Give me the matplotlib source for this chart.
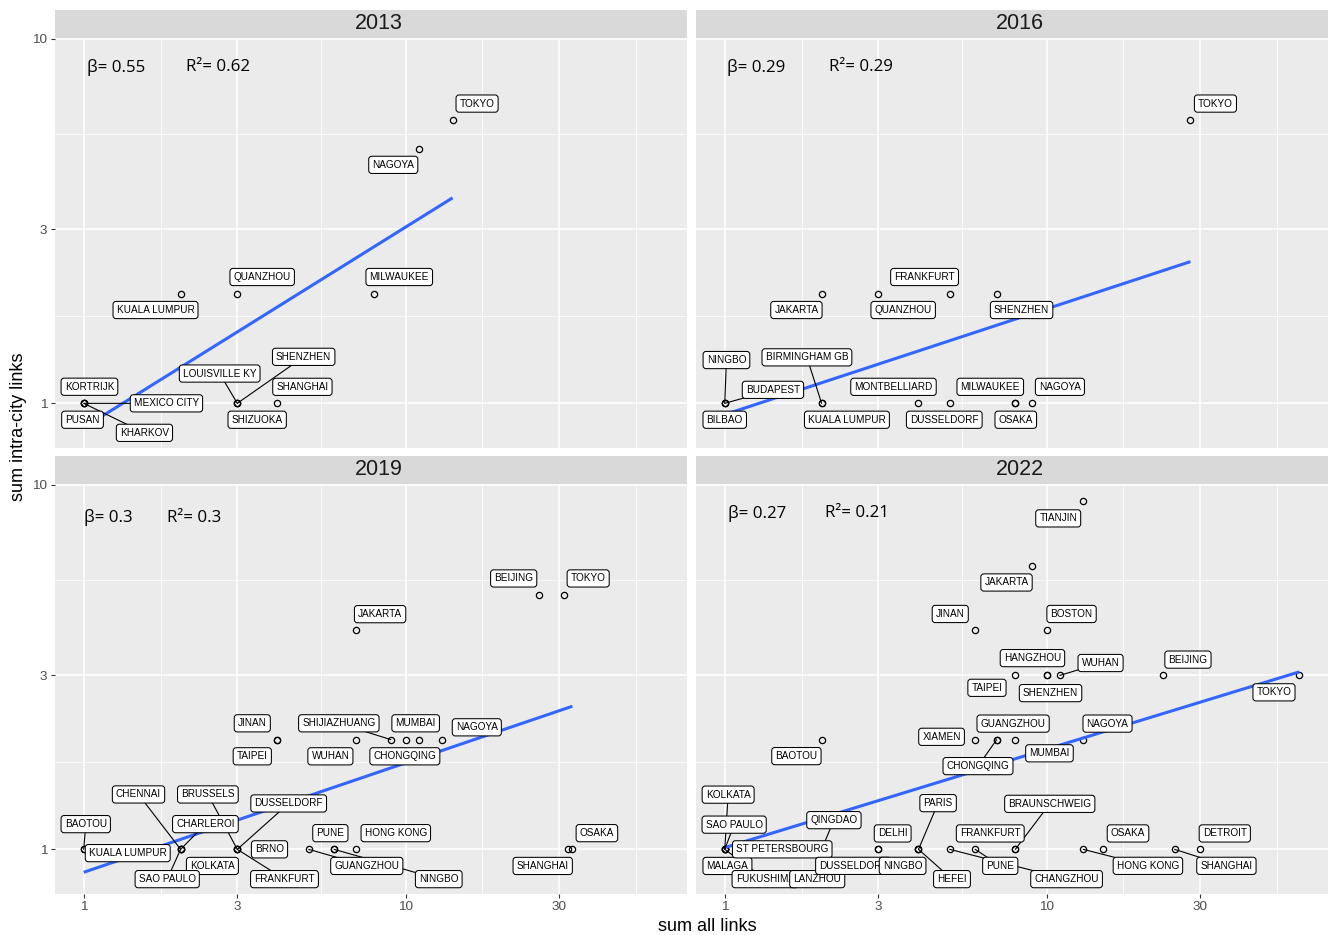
import numpy as np
import matplotlib
matplotlib.use("Agg")
import matplotlib.pyplot as plt
from matplotlib.ticker import FixedLocator, NullFormatter, FixedFormatter

plt.rcParams["font.family"] = ["Liberation Sans", "DejaVu Sans"]

# ---------------------------------------------------------------- data
years = ["2013", "2016", "2019", "2022"]

cities_2013 = ["KORTRIJK", "PUSAN", "MEXICO CITY", "KHARKOV", "KUALA LUMPUR", "QUANZHOU",
               "LOUISVILLE KY", "SHENZHEN", "SHIZUOKA", "SHANGHAI", "MILWAUKEE", "NAGOYA",
               "TOKYO"]
all_links_2013 = [1, 1, 1, 1, 2, 3, 3, 3, 3, 4, 8, 11, 14]
intra_links_2013 = [1, 1, 1, 1, 2, 2, 1, 1, 1, 1, 2, 5, 6]

cities_2016 = ["NINGBO", "BUDAPEST", "BILBAO", "JAKARTA", "BIRMINGHAM GB", "KUALA LUMPUR",
               "QUANZHOU", "MONTBELLIARD", "FRANKFURT", "DUSSELDORF", "SHENZHEN",
               "MILWAUKEE", "OSAKA", "NAGOYA", "TOKYO"]
all_links_2016 = [1, 1, 1, 2, 2, 2, 3, 4, 5, 5, 7, 8, 8, 9, 28]
intra_links_2016 = [1, 1, 1, 2, 1, 1, 2, 1, 2, 1, 2, 1, 1, 1, 6]

cities_2019 = ["BAOTOU", "KUALA LUMPUR", "CHENNAI", "CHARLEROI", "KOLKATA", "SAO PAULO",
               "BRUSSELS", "DUSSELDORF", "BRNO", "FRANKFURT", "JINAN", "TAIPEI",
               "GUANGZHOU", "PUNE", "NINGBO", "HONG KONG", "WUHAN", "JAKARTA",
               "SHIJIAZHUANG", "CHONGQING", "MUMBAI", "NAGOYA", "BEIJING", "TOKYO",
               "SHANGHAI", "OSAKA"]
all_links_2019 = [1, 1, 2, 2, 2, 2, 3, 3, 3, 3, 4, 4, 5, 6, 6, 7, 7, 7, 9, 10, 11, 13,
                  26, 31, 32, 33]
intra_links_2019 = [1, 1, 1, 1, 1, 1, 1, 1, 1, 1, 2, 2, 1, 1, 1, 1, 2, 4, 2, 2, 2, 2,
                    5, 5, 1, 1]

cities_2022 = ["KOLKATA", "SAO PAULO", "MALAGA", "ST PETERSBOURG", "FUKUSHIMA", "QINGDAO",
               "LANZHOU", "BAOTOU", "DELHI", "DUSSELDORF", "PARIS", "HEFEI", "NINGBO",
               "CHANGZHOU", "PUNE", "XIAMEN", "JINAN", "GUANGZHOU", "CHONGQING",
               "BRAUNSCHWEIG", "FRANKFURT", "MUMBAI", "TAIPEI", "JAKARTA", "HANGZHOU",
               "SHENZHEN", "BOSTON", "WUHAN", "HONG KONG", "NAGOYA", "TIANJIN", "OSAKA",
               "BEIJING", "SHANGHAI", "DETROIT", "TOKYO"]
all_links_2022 = [1, 1, 1, 1, 1, 2, 2, 2, 3, 3, 4, 4, 4, 5, 6, 6, 6, 7, 7, 8, 8, 8, 8, 9,
                  10, 10, 10, 11, 13, 13, 13, 15, 23, 25, 30, 61]
intra_links_2022 = [1, 1, 1, 1, 1, 1, 1, 2, 1, 1, 1, 1, 1, 1, 1, 2, 4, 2, 2, 1, 1, 2, 3, 6,
                    3, 3, 4, 3, 1, 2, 9, 1, 3, 1, 1, 3]

beta_labels = ["0.55", "0.29", "0.3", "0.27"]
r2_labels = ["0.62", "0.29", "0.3", "0.21"]

x_breaks = [1, 3, 10, 30]
y_breaks = [1, 3, 10]

# ---------------------------------------------------------------- layout
# label offsets from their point in pixels (right, up) and whether a leader is drawn
label_layout = {
    "2013": [(5.7, 16.6, 0), (-1.2, -16.4, 0), (82.7, 0, 1), (60.7, -29.5, 1),
             (-25.1, -16.4, 0), (24.9, 16.6, 0), (-17.6, 29.8, 1), (66.4, 46.5, 1),
             (19.9, -16.4, 0), (24.9, 16.5, 0), (24.9, 16.6, 0), (-25.6, -16.3, 0),
             (24.5, 16.1, 0)],
    "2016": [(1.7, 43.3, 1), (48.2, 13.5, 1), (0, -16.4, 0), (-25.2, -16.4, 0),
             (-14.7, 46, 1), (25.3, -16.4, 0), (24.9, -16.4, 0), (-25, 16.5, 0),
             (-25.1, 16.6, 0), (-5.4, -16.4, 0), (24.9, -16.4, 0), (-25.1, 16.5, 0),
             (0.4, -16.4, 0), (28.1, 16.5, 0), (25, 16.1, 0)],
    "2019": [(2, 25.2, 1), (44, -3.8, 0), (-42.1, 54.9, 1), (24.8, 25.2, 1),
             (31.8, -16.6, 0), (-13.4, -29.8, 1), (-29.4, 54.9, 1), (51.4, 45.9, 1),
             (32.2, 0, 0), (47.2, -29.8, 1), (-25.2, 16.3, 0), (-25.2, -16.7, 0),
             (58.1, -16.6, 1), (-3.8, 16.2, 0), (104.6, -29.8, 1), (40.1, 16.2, 0),
             (-25.3, -16.7, 0), (24.4, 15.7, 0), (-52, 16.3, 1), (-0.7, -16.7, 0),
             (-3.2, 16.3, 0), (34.6, 12.3, 0), (-25.4, 16.1, 0), (24.5, 16.1, 0),
             (-25.4, -16.6, 0), (24.5, 16.2, 0)],
    "2022": [(3.4, 54.7, 1), (9.4, 24.7, 1), (2.7, -16.6, 0), (57.5, 0, 0),
             (40.5, -29.8, 1), (12.3, 29.2, 1), (-4.4, -29.8, 1), (-25.2, -16.5, 0),
             (14.4, 15.9, 0), (-24.8, -16.5, 0), (19.6, 46.2, 1), (33.5, -29.8, 1),
             (-15.9, -16.5, 0), (116.9, -29.8, 1), (25.1, -16.5, 1), (-33.6, 2.8, 0),
             (-24.9, 15.9, 0), (16.4, 16, 0), (-18.7, -26.5, 1), (34.4, 45.5, 1),
             (-25.1, 15.9, 0), (34.1, -13.7, 0), (-28.4, -12.4, 0), (-25.3, -16.8, 0),
             (-14.1, 17.3, 0), (4, -17.7, 0), (25, 15.9, 0), (40.7, 12.4, 1),
             (64.7, -16.5, 1), (24.3, 16, 0), (-25, -16.9, 0), (24.8, 15.9, 0),
             (25, 15.8, 0), (51.8, -16.5, 1), (24.7, 15.9, 0), (-25.3, -16.9, 0)],
}

W, H = 1335, 935
fig = plt.figure(figsize=(W / 100, H / 100), dpi=100)
fig.patch.set_facecolor("white")

panels = {  # left, top, right, bottom in pixels
    "2013": (55, 37.5, 687, 448),
    "2016": (696, 37.5, 1328, 448),
    "2019": (55, 483.5, 687, 894),
    "2022": (696, 483.5, 1328, 894),
}
stat_pos = {  # beta left, R2 left, text centre (pixels from panel top-left)
    "2013": (32.3, 131.0, 29.5),
    "2016": (30.7, 133.3, 29.5),
    "2019": (29.0, 112.3, 34.0),
    "2022": (32.3, 129.0, 29.7),
}
strip_h = 27.5

# shared log-scale limits (both facets rows/columns use the same scales)
xlim = (10 ** -0.0893, 10 ** 1.8746)
ylim = (10 ** -0.1225, 10 ** 1.0036)


def rect(left, top, right, bottom):
    return [left / W, 1 - bottom / H, (right - left) / W, (bottom - top) / H]


data = {
    "2013": (cities_2013, all_links_2013, intra_links_2013),
    "2016": (cities_2016, all_links_2016, intra_links_2016),
    "2019": (cities_2019, all_links_2019, intra_links_2019),
    "2022": (cities_2022, all_links_2022, intra_links_2022),
}

# fitted log-log lines: slope from the stated beta, intercept through the means
fits = {}
for i, yr in enumerate(years):
    _, xs, ys = data[yr]
    lx, ly = np.log10(xs), np.log10(ys)
    b = float(beta_labels[i])
    c = ly.mean() - b * lx.mean()
    fits[yr] = (b, c, lx.min(), lx.max())


def minor_breaks(breaks):
    lb = np.log10(breaks)
    step = lb[1] - lb[0]
    ext = np.concatenate([[lb[0] - step], lb, [lb[-1] + step]])
    return list(10 ** ((ext[:-1] + ext[1:]) / 2))


x_breaks_in = [b for b in x_breaks if xlim[0] <= b <= xlim[1]]
y_breaks_in = [b for b in y_breaks if ylim[0] <= b <= ylim[1]]
x_minor = minor_breaks(x_breaks_in)
y_minor = minor_breaks(y_breaks_in)

label_font = 7.2

for i, yr in enumerate(years):
    left, top, right, bottom = panels[yr]
    ax = fig.add_axes(rect(left, top, right, bottom))
    ax.set_facecolor("#EBEBEB")
    ax.set_xscale("log")
    ax.set_yscale("log")
    ax.set_xlim(*xlim)
    ax.set_ylim(*ylim)
    for s in ax.spines.values():
        s.set_visible(False)

    ax.xaxis.set_major_locator(FixedLocator(x_breaks))
    ax.xaxis.set_major_formatter(FixedFormatter([str(b) for b in x_breaks]))
    ax.xaxis.set_minor_locator(FixedLocator(x_minor))
    ax.xaxis.set_minor_formatter(NullFormatter())
    ax.yaxis.set_major_locator(FixedLocator(y_breaks))
    ax.yaxis.set_major_formatter(FixedFormatter([str(b) for b in y_breaks]))
    ax.yaxis.set_minor_locator(FixedLocator(y_minor))
    ax.yaxis.set_minor_formatter(NullFormatter())

    ax.grid(which="major", color="white", lw=1.1)
    ax.grid(which="minor", color="white", lw=0.55)
    ax.set_axisbelow(True)
    ax.tick_params(which="minor", length=0)
    ax.tick_params(which="major", length=3.2, width=0.8, color="#333333",
                   labelcolor="#4D4D4D", labelsize=9.7, pad=2.2)
    if i < 2:
        ax.tick_params(axis="x", which="major", length=0, labelbottom=False)
    if i % 2 == 1:
        ax.tick_params(axis="y", which="major", length=0, labelleft=False)

    names, xs, ys = data[yr]
    ax.plot(xs, ys, "o", ms=4.5, mfc="none", mec="black", mew=0.9, zorder=3,
            clip_on=False)

    b, c, lo, hi = fits[yr]
    lxx = np.linspace(lo, hi, 50)
    ax.plot(10 ** lxx, 10 ** (c + b * lxx), color="#3366FF", lw=2.2, zorder=4,
            solid_capstyle="butt")

    layout = label_layout[yr]
    for name, x, y, (dx, dy, seg) in zip(names, xs, ys, layout):
        if seg:
            ax.annotate("", xy=(x, y), xytext=(dx, dy), textcoords="offset pixels",
                        arrowprops=dict(arrowstyle="-", color="black", lw=0.8,
                                        shrinkA=0, shrinkB=0),
                        zorder=5, annotation_clip=False)
    for name, x, y, (dx, dy, seg) in zip(names, xs, ys, layout):
        ax.annotate(name, xy=(x, y), xytext=(dx, dy), textcoords="offset pixels",
                    ha="center", va="center", fontsize=label_font, color="black",
                    bbox=dict(boxstyle="round,pad=0.36,rounding_size=0.3",
                              fc="white", ec="black", lw=0.75),
                    zorder=6, annotation_clip=False)

    # facet strip
    sax = fig.add_axes(rect(left, top - strip_h, right, top))
    sax.set_facecolor("#D9D9D9")
    sax.set_xticks([])
    sax.set_yticks([])
    for s in sax.spines.values():
        s.set_visible(False)
    fig.text(((left + right) / 2 + 8) / W, 1 - (top - strip_h + 18.7) / H, yr,
             ha="center", va="baseline", fontsize=15.5, color="#1A1A1A")

    # regression statistics
    bx, rx, ty = stat_pos[yr]
    fig.text((left + bx) / W, 1 - (top + ty) / H, "\u03b2= " + beta_labels[i],
             ha="left", va="center", fontsize=12.2, color="black",
             family=["Open Sans", "DejaVu Sans"])
    fig.text((left + rx) / W, 1 - (top + ty) / H, "R\u00b2= " + r2_labels[i],
             ha="left", va="center", fontsize=12.2, color="black",
             family=["Open Sans", "DejaVu Sans"])

fig.text(707.5 / W, 1 - 931 / H, "sum all links", ha="center", va="baseline",
         fontsize=13, color="black")
fig.text(18.5 / W, 1 - 426.5 / H, "sum intra-city links", rotation=90,
         ha="center", va="center", fontsize=13, color="black")

fig.savefig("out.png", dpi=100, facecolor="white")
